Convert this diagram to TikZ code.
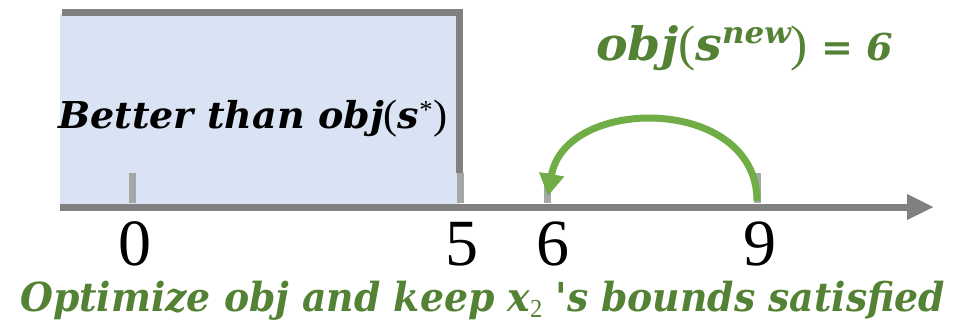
\documentclass[tikz,border=0pt]{standalone}
\usepackage{fontspec}
\setmainfont{Liberation Serif}
\newfontfamily\slabfont{DejaVu Serif}
\usetikzlibrary{arrows.meta}
\definecolor{boxfill}{HTML}{DAE3F3}
\definecolor{linegray}{HTML}{808080}
\definecolor{tickgray}{HTML}{A6A6A6}
\definecolor{arcgreen}{HTML}{70AD47}
\definecolor{txtgreen}{HTML}{548235}
\newcommand{\fitw}[2]{\resizebox{#1}{\height}{#2}}
\newcommand{\fs}[1]{\fontsize{#1}{#1}\selectfont}
\begin{document}
\begin{tikzpicture}[x=1pt,y=-1pt,
  frame/.style={draw=linegray,line width=7pt,line join=miter},
  axis/.style={draw=linegray,line width=7pt,-{Triangle[length=27pt,width=24pt]}},
  tickmark/.style={draw=tickgray,line width=7pt},
  jump/.style={draw=arcgreen,line width=7pt,-{Triangle[length=22pt,width=24pt]}},
  digit/.style={anchor=base,inner sep=0pt,font=\fontsize{66}{70}\selectfont},
  boldtxt/.style={anchor=base west,inner sep=0pt,font=\fontsize{37}{44}\selectfont\slabfont\bfseries\itshape}]
\useasboundingbox (0,0) rectangle (960,322);
\fill[boxfill] (60,14) rectangle (460,207);
\coordinate (tl) at (62,12.5);
\coordinate (tr) at (459.5,12.5);
\coordinate (br) at (459.5,173);
\draw[frame] (tl) -- (tr) -- (br);
\coordinate (a0) at (60,207);
\coordinate (a1) at (934,207);
\draw[axis] (a0) -- (a1);
\foreach \n/\x in {0/132,5/460,6/547,9/757}{
  \coordinate (t\n) at (\x,173);
  \coordinate (b\n) at (\x,203);
  \draw[tickmark] (t\n) -- (b\n);
}
\node[digit] (l0) at (135,265) {0};
\node[digit] (l5) at (462,265) {5};
\node[digit] (l6) at (553,265) {6};
\node[digit] (l9) at (760,265) {9};
\coordinate (s) at (757,201);
\coordinate (e) at (548,196);
\draw[jump] (s) .. controls (757,95) and (565,95) .. (e);
\node[boldtxt] (better) at (58,128) {\fitw{389pt}{Better than obj{\mdseries\upshape\rmfamily\fs{41}(}s{\mdseries\upshape\rmfamily\textsuperscript{*}\fs{41})}}};
\node[boldtxt,text=txtgreen,font=\fs{46}\slabfont\bfseries\itshape] (objnew) at (596,60) {\fitw{297pt}{obj{\mdseries\upshape\rmfamily\fs{50}(}s\raisebox{17pt}{\fs{30}new}{\mdseries\upshape\rmfamily\fs{50})}{\fs{37}\ =\ 6}}};
\node[boldtxt,text=txtgreen,font=\fs{40}\slabfont\bfseries\itshape] (goal) at (20,311) {\fitw{925pt}{Optimize obj and keep x{\mdseries\upshape\rmfamily\raisebox{-6pt}{\fs{26}2}} 's bounds satisfied}};
\end{tikzpicture}
\end{document}
